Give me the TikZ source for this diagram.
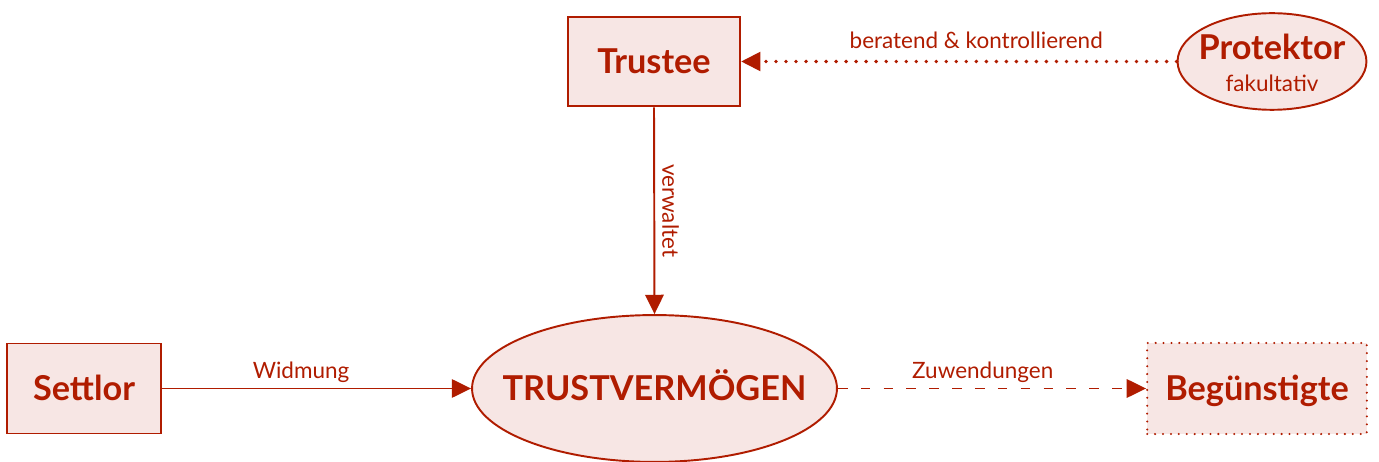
\documentclass[tikz,border=0pt]{standalone}
\usepackage{fontspec}
\setmainfont{Lato}
\usetikzlibrary{shapes.geometric,arrows.meta}
\definecolor{trustred}{RGB}{176,28,0}
\definecolor{trustfill}{RGB}{247,230,228}

\begin{document}
\begin{tikzpicture}[x=0.02cm, y=0.02cm]
    \tikzstyle{every node}+=[text=trustred]
    \tikzstyle{party}=[draw=trustred, fill=trustfill, line width=1.1pt, inner sep=0pt, font=\fontsize{19.5}{23}\selectfont\bfseries, text height=14pt, text depth=0pt]
    \tikzstyle{partybox}=[party, rectangle]
    \tikzstyle{partyoval}=[party, ellipse, inner xsep=-30pt]
    \tikzstyle{flow}=[trustred, line width=1.1pt, -{Triangle[length=11pt,width=10.5pt]}]
    \tikzstyle{flowlabel}=[font=\fontsize{12.8}{15}\selectfont, inner sep=3pt]
    \useasboundingbox (0,0) rectangle (1379,-462);
    % parties
    \node [partybox, minimum width=98pt, minimum height=51pt] (trustee) at (654,-61.5) {Trustee};
    \node [partyoval, minimum width=107.5pt, minimum height=55pt, align=center, text height=34.7pt] (protektor) at (1272,-61.5) {Protektor\\[-4.3pt]{\fontsize{12.8}{15}\selectfont\mdseries fakultativ}};
    \node [partybox, minimum width=87.6pt, minimum height=51.2pt] (settlor) at (84,-388.5) {Settlor};
    \node [partyoval, minimum width=207.7pt, minimum height=83.6pt] (vermoegen) at (654.5,-388.5) {TRUSTVERMÖGEN};
    \node [partybox, minimum width=125pt, minimum height=51.8pt, dash pattern=on 0pt off 4.5pt, line cap=round, line width=1.3pt] (beguenstigte) at (1257,-388.5) {Begünstigte};
    % relations
    \draw [flow, dash pattern=on 0pt off 5.7pt, line cap=round, line width=2.2pt] (protektor.west) -- (trustee.east) node [flowlabel, pos=0.46, above, yshift=3pt] {beratend \& kontrollierend};
    \draw [flow] (trustee.south) -- (vermoegen.north) node [flowlabel, midway, sloped, above, inner sep=4pt] {verwaltet};
    \draw [flow] (settlor.east) -- (vermoegen.west) node [flowlabel, pos=0.45, above] {Widmung};
    \draw [flow, dash pattern=on 5.5pt off 7.5pt] (vermoegen.east) -- (beguenstigte.west) node [flowlabel, pos=0.47, above] {Zuwendungen};
\end{tikzpicture}
\end{document}
